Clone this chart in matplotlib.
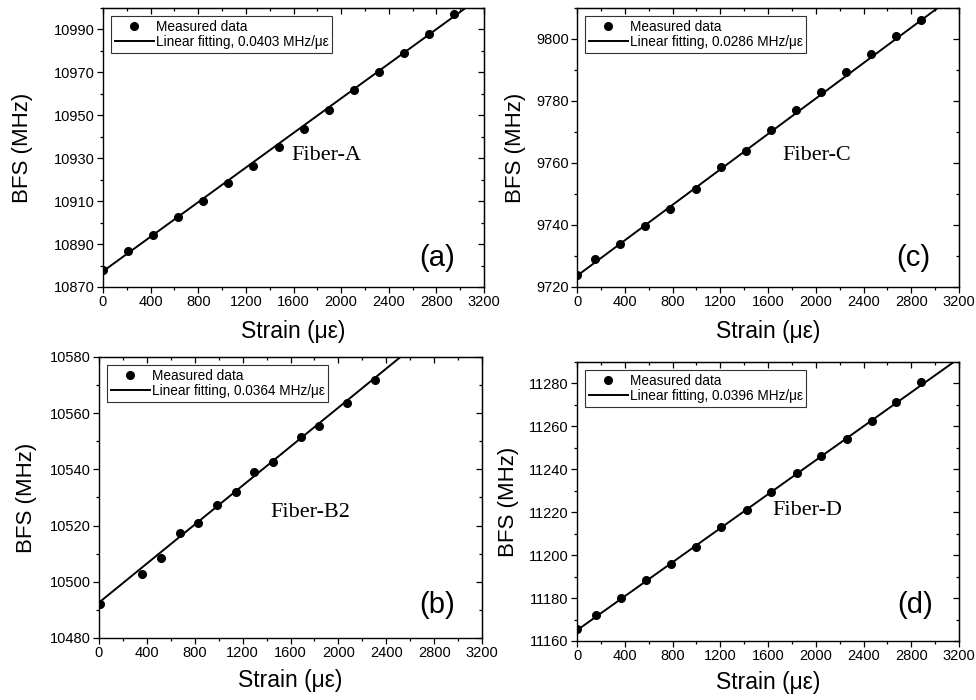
import numpy as np
import matplotlib
matplotlib.use("Agg")
import matplotlib.pyplot as plt

# ---------------- data ----------------
strain_a = [0, 210, 420, 630, 843, 1053, 1261, 1477, 1687, 1897, 2107, 2317, 2530, 2740, 2950]
bfs_a = [10877.8, 10886.9, 10894.3, 10902.4, 10910.2, 10918.4, 10926.4, 10935.0, 10943.8,
         10952.6, 10961.9, 10970.2, 10979.1, 10988.1, 10997.4]
fit_a = (0.0403, 10877.3)

strain_c = [0, 151, 361, 571, 783, 993, 1203, 1413, 1622, 1835, 2042, 2254, 2464, 2674, 2884]
bfs_c = [9724.0, 9729.1, 9734.0, 9739.8, 9745.2, 9751.6, 9758.6, 9764.0, 9770.8, 9777.0,
         9782.9, 9789.4, 9795.3, 9801.0, 9806.0]
fit_c = (0.0286, 9723.6)

strain_b = [5, 363, 519, 675, 829, 982, 1141, 1297, 1451, 1685, 1841, 2073, 2307]
bfs_b = [10492.2, 10502.6, 10508.3, 10517.5, 10520.9, 10527.4, 10531.8, 10539.1, 10542.8,
         10551.5, 10555.5, 10563.8, 10571.7]
fit_b = (0.0347, 10492.6)

strain_d = [0, 162, 369, 581, 791, 1000, 1210, 1420, 1629, 1839, 2046, 2258, 2468, 2675, 2884]
bfs_d = [11165.4, 11172.1, 11180.2, 11188.3, 11195.9, 11203.9, 11213.1, 11221.2, 11229.5,
         11238.2, 11246.2, 11253.9, 11262.6, 11271.3, 11280.5]
fit_d = (0.0396, 11165.0)

slope_labels = ["0.0403", "0.0286", "0.0364", "0.0396"]
fiber_names = ["Fiber-A", "Fiber-C", "Fiber-B2", "Fiber-D"]
panel_tags = ["(a)", "(c)", "(b)", "(d)"]
ylims = [(10870, 11000), (9720, 9810), (10480, 10580), (11160, 11290)]
xticks = list(range(0, 3201, 400))

# ---------------- layout ----------------
plt.rcParams['font.family'] = ['Liberation Sans', 'DejaVu Sans']
fig = plt.figure(figsize=(9.76, 7.0), dpi=100)

rects = [
    [0.1055, 0.590, 0.3905, 0.3986],
    [0.5912, 0.590, 0.3914, 0.3986],
    [0.1014, 0.0886, 0.3925, 0.4014],
    [0.5912, 0.0843, 0.3914, 0.3986],
]
fiber_pos = [(0.585, 0.47), (0.627, 0.473), (0.553, 0.446), (0.603, 0.466)]
tag_pos = [(0.877, 0.104), (0.88, 0.104), (0.882, 0.117), (0.885, 0.129)]
ylabel_x = [-0.21, -0.162, -0.188, -0.18]
xlabel_y = [-0.161, -0.161, -0.15, -0.15]

datasets = [(strain_a, bfs_a, fit_a), (strain_c, bfs_c, fit_c),
            (strain_b, bfs_b, fit_b), (strain_d, bfs_d, fit_d)]

for i, (xs, ys, (k, b0)) in enumerate(datasets):
    ax = fig.add_axes(rects[i])
    xf = np.array([0, 3200])
    ax.plot(xs, ys, 'o', color='black', markersize=5.5, zorder=3, label='Measured data')
    ax.plot(xf, k * xf + b0, '-', color='black', lw=1.4, zorder=2,
            label='Linear fitting, %s MHz/\u03bc\u03b5' % slope_labels[i])
    ax.set_xlim(0, 3200)
    ax.set_ylim(*ylims[i])
    ax.set_xticks(xticks)
    ax.set_xticks(list(range(200, 3200, 400)), minor=True)
    ymaj = list(range(ylims[i][0], ylims[i][1] + 1, 20))
    ymin = list(range(ylims[i][0] + 10, ylims[i][1] + 1, 20))
    ax.set_yticks(ymaj)
    ax.set_yticks(ymin, minor=True)
    ax.ticklabel_format(useOffset=False, style='plain', axis='y')
    ax.tick_params(which='major', direction='out', length=4, width=0.9,
                   labelsize=10.5, pad=2)
    ax.tick_params(which='minor', direction='out', length=2.5, width=0.9)
    for s in ax.spines.values():
        s.set_linewidth(1.0)

    top = ax.secondary_xaxis('top')
    top.set_xticks(xticks)
    top.set_xticks(list(range(200, 3200, 400)), minor=True)
    top.tick_params(which='both', direction='in', labeltop=False, width=0.9)
    top.tick_params(which='major', length=4)
    top.tick_params(which='minor', length=2.5)
    right = ax.secondary_yaxis('right')
    right.set_yticks(ymaj)
    right.set_yticks(ymin, minor=True)
    right.tick_params(which='both', direction='in', labelright=False, width=0.9)
    right.tick_params(which='major', length=4)
    right.tick_params(which='minor', length=2.5)

    ax.set_ylabel('BFS (MHz)', fontsize=16, va='center')
    ax.yaxis.set_label_coords(ylabel_x[i], 0.5)
    ax.set_xlabel('Strain (\u03bc\u03b5)', fontsize=16.5, va='center')
    ax.xaxis.set_label_coords(0.5, xlabel_y[i])

    ax.text(fiber_pos[i][0], fiber_pos[i][1], fiber_names[i], transform=ax.transAxes,
            ha='center', va='center', fontsize=16, family=['Liberation Serif', 'DejaVu Serif'])
    ax.text(tag_pos[i][0], tag_pos[i][1], panel_tags[i], transform=ax.transAxes,
            ha='center', va='center', fontsize=21)

    leg = ax.legend(loc='upper left', fontsize=9.8, frameon=True, fancybox=False,
                    edgecolor='#333333', framealpha=1, handlelength=2.9,
                    borderpad=0.25, labelspacing=0.12, handletextpad=0.15,
                    borderaxespad=0.6, numpoints=1)
    leg.get_frame().set_linewidth(0.8)

fig.savefig('out.png', dpi=100)
